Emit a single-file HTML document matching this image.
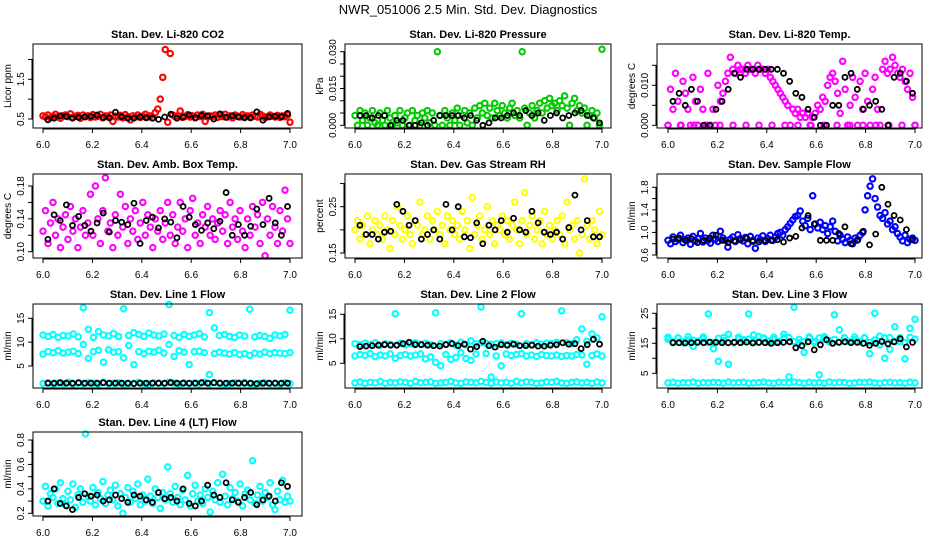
<!DOCTYPE html>
<html><head><meta charset="utf-8"><style>
html,body{margin:0;padding:0;background:#fff;}
svg{display:block;font-family:"Liberation Sans",Arial,sans-serif;}
</style></head><body>
<svg id="chart" width="936" height="540" viewBox="0 0 936 540">
<text x="468" y="14" text-anchor="middle" font-size="13">NWR_051006  2.5 Min. Std. Dev. Diagnostics</text>
</svg>
<script>
// ---- data ----
const xTicks = [6.0, 6.2, 6.4, 6.6, 6.8, 7.0];
const xTickLabels = ["6.0", "6.2", "6.4", "6.6", "6.8", "7.0"];

const co2 = [0.58,0.55,0.60,0.53,0.57,0.62,0.55,0.52,0.58,0.60,0.56,0.63,0.54,0.57,0.59,0.52,0.60,0.56,0.58,0.54,
0.61,0.55,0.57,0.62,0.53,0.58,0.56,0.60,0.44,0.57,0.55,0.59,0.53,0.61,0.56,0.48,0.58,0.55,0.60,0.54,
0.57,0.62,0.55,0.58,0.53,0.66,0.75,1.00,1.55,2.25,0.42,2.15,0.60,0.56,0.58,0.70,0.54,0.57,0.61,0.55,
0.58,0.53,0.60,0.56,0.62,0.44,0.55,0.58,0.57,0.60,0.54,0.59,0.56,0.62,0.55,0.58,0.53,0.60,0.57,0.55,
0.61,0.56,0.58,0.54,0.60,0.57,0.55,0.62,0.58,0.53,0.56,0.60,0.57,0.55,0.59,0.54,0.58,0.56,0.60,0.42];
const co2Black = [0.48,0.52,0.58,0.56,0.52,0.54,0.55,0.57,0.60,0.54,0.53,0.67,0.56,0.52,0.52,0.55,0.53,0.52,0.49,0.55,
0.62,0.52,0.55,0.60,0.53,0.59,0.58,0.50,0.63,0.54,0.58,0.55,0.53,0.53,0.68,0.47,0.55,0.57,0.56,0.64];

const press = [0.004,0.000,0.006,0.002,0.005,0.000,0.003,0.006,0.001,0.000,0.005,0.002,0.000,0.006,0.003,0.000,0.004,0.001,0.006,0.000,
0.003,0.005,0.000,0.006,0.002,0.004,0.000,0.005,0.003,0.006,0.001,0.005,0.000,0.030,0.004,0.000,0.006,0.003,0.000,0.005,
0.002,0.007,0.000,0.004,0.006,0.001,0.005,0.000,0.007,0.003,0.008,0.005,0.009,0.004,0.007,0.003,0.009,0.006,0.004,0.008,
0.005,0.003,0.007,0.009,0.004,0.006,0.003,0.030,0.007,0.000,0.005,0.008,0.003,0.006,0.009,0.005,0.010,0.007,0.011,0.008,
0.009,0.006,0.010,0.008,0.012,0.007,0.000,0.009,0.011,0.006,0.008,0.005,0.007,0.000,0.004,0.006,0.003,0.005,0.000,0.031];
const pressBlack = [0.004,0.004,0.003,0.004,0.004,0.000,0.002,0.002,0.000,0.000,0.001,0.000,0.002,0.004,0.004,0.004,0.004,0.003,0.004,0.002,
0.000,0.001,0.003,0.003,0.004,0.005,0.004,0.006,0.004,0.005,0.002,0.004,0.005,0.003,0.004,0.005,0.006,0.004,0.003,0.001];

const temp = [0.000,0.009,0.004,0.013,0.006,0.000,0.011,0.008,0.004,0.000,0.012,0.006,0.000,0.009,0.004,0.000,0.013,0.000,0.004,0.000,
0.010,0.006,0.008,0.011,0.013,0.017,0.014,0.013,0.015,0.014,0.014,0.013,0.015,0.014,0.014,0.013,0.015,0.014,0.014,0.013,
0.014,0.012,0.011,0.010,0.009,0.008,0.007,0.006,0.005,0.000,0.004,0.003,0.004,0.002,0.003,0.002,0.003,0.000,0.002,0.003,
0.005,0.004,0.007,0.006,0.010,0.012,0.013,0.011,0.008,0.003,0.016,0.009,0.000,0.005,0.012,0.007,0.000,0.011,0.004,0.013,
0.006,0.000,0.009,0.012,0.004,0.000,0.014,0.016,0.013,0.014,0.017,0.015,0.013,0.012,0.014,0.011,0.009,0.013,0.007,0.000];
const tempZeros = [0.000,0.000,0.000,0.000,0.000,0.000,0.000,0.000,0.000,0.000,0.000,0.000,0.000,0.000,0.000,0.000,0.000,0.000,0.000,0.000];
const tempBlack = [0.006,0.008,0.005,0.009,0.006,0.000,0.000,0.004,0.006,0.009,0.013,0.012,0.014,0.014,0.014,0.014,0.014,0.014,0.013,0.011,
0.008,0.007,0.004,0.002,0.000,0.000,0.005,0.005,0.012,0.013,0.009,0.004,0.005,0.006,0.004,0.000,0.012,0.013,0.011,0.008];

const amb = [0.125,0.15,0.11,0.135,0.16,0.12,0.14,0.105,0.13,0.145,0.115,0.155,0.125,0.14,0.105,0.13,0.15,0.12,0.135,0.17,
0.12,0.18,0.14,0.11,0.15,0.19,0.125,0.135,0.105,0.145,0.12,0.17,0.13,0.155,0.11,0.14,0.125,0.15,0.115,0.135,
0.16,0.12,0.145,0.13,0.105,0.14,0.125,0.15,0.115,0.135,0.16,0.12,0.145,0.11,0.13,0.16,0.125,0.14,0.105,0.15,
0.165,0.12,0.135,0.11,0.145,0.13,0.155,0.12,0.14,0.115,0.135,0.15,0.125,0.145,0.11,0.16,0.13,0.14,0.115,0.15,
0.125,0.105,0.14,0.12,0.155,0.13,0.145,0.11,0.16,0.095,0.14,0.12,0.155,0.13,0.11,0.15,0.125,0.175,0.14,0.11];
const ambBlack = [0.115,0.145,0.138,0.157,0.132,0.143,0.132,0.125,0.135,0.147,0.124,0.138,0.136,0.133,0.159,0.11,0.138,0.142,0.129,0.14,
0.136,0.117,0.155,0.142,0.133,0.126,0.135,0.128,0.137,0.172,0.12,0.133,0.12,0.131,0.152,0.133,0.165,0.135,0.12,0.155];

const rh = [0.20,0.22,0.18,0.21,0.19,0.23,0.17,0.20,0.22,0.19,0.21,0.18,0.23,0.20,0.16,0.22,0.19,0.25,0.21,0.18,
0.20,0.23,0.19,0.17,0.22,0.21,0.26,0.19,0.20,0.23,0.18,0.22,0.20,0.24,0.19,0.21,0.17,0.23,0.20,0.22,
0.19,0.21,0.18,0.24,0.20,0.22,0.16,0.27,0.19,0.21,0.23,0.18,0.20,0.25,0.19,0.22,0.17,0.21,0.20,0.23,
0.19,0.22,0.18,0.21,0.26,0.20,0.17,0.22,0.28,0.19,0.21,0.23,0.18,0.20,0.22,0.17,0.24,0.19,0.21,0.18,
0.20,0.22,0.19,0.23,0.17,0.26,0.20,0.21,0.18,0.22,0.15,0.19,0.31,0.21,0.18,0.22,0.20,0.17,0.24,0.19];
const rhBlack = [0.21,0.19,0.19,0.18,0.195,0.197,0.255,0.24,0.21,0.22,0.18,0.19,0.20,0.18,0.255,0.20,0.25,0.185,0.183,0.215,
0.17,0.21,0.20,0.22,0.195,0.225,0.20,0.195,0.24,0.215,0.195,0.19,0.195,0.18,0.205,0.275,0.20,0.22,0.185,0.185];

const flow = [0.86,0.80,0.92,0.84,0.88,0.95,0.82,0.87,0.90,0.79,0.93,0.85,0.89,0.98,0.83,0.90,0.86,0.81,0.95,0.88,
0.84,1.02,0.90,0.86,0.74,0.88,0.92,0.84,0.96,0.89,0.85,0.91,0.80,0.93,0.86,0.72,0.90,0.87,0.94,0.84,
0.89,0.95,0.86,0.91,0.98,1.00,0.95,1.05,1.10,1.16,1.22,1.28,1.30,1.38,1.20,1.12,1.25,1.05,1.65,1.15,
1.08,1.18,1.05,1.12,0.98,1.10,1.20,1.02,0.85,0.95,0.88,0.82,0.92,0.86,0.80,0.90,0.87,0.95,1.00,1.40,
1.65,1.82,1.95,1.60,1.45,1.30,1.25,1.35,1.15,1.20,1.05,1.10,0.98,0.92,0.85,0.95,0.82,0.88,0.90,0.86];
const flowBlack = [0.88,0.90,0.86,0.89,0.82,0.86,0.90,0.95,0.86,0.82,0.85,0.87,0.90,0.84,0.83,0.86,0.86,0.87,0.83,0.90,
0.93,1.08,1.30,1.15,0.86,0.86,0.86,0.98,1.10,0.80,0.86,1.02,0.78,0.97,1.80,1.50,1.30,1.22,1.05,0.87];

const l1a = [11.5,11.2,11.6,11.0,11.4,11.3,11.7,11.1,17.2,12.7,11.0,12.2,11.5,11.3,11.8,11.2,17.0,11.4,12.0,11.6,
11.2,11.9,11.5,11.3,11.7,17.9,11.4,11.0,11.6,11.2,11.5,11.8,11.1,16.2,13.0,11.4,11.6,11.2,11.0,11.5,
11.3,16.9,11.1,11.4,11.2,10.8,11.5,11.3,11.6,16.7];
const l1b = [7.5,8.0,7.8,8.2,7.7,7.9,8.1,7.6,9.5,6.6,8.0,8.3,5.8,8.4,7.9,8.0,6.7,9.3,5.3,8.0,
7.6,8.1,7.9,8.3,7.7,9.5,7.0,8.2,7.9,5.3,8.0,8.1,7.8,3.2,7.6,7.9,7.7,7.5,7.8,7.4,
7.6,7.2,7.7,7.5,7.9,7.6,7.8,7.7,7.6,7.8];
const l1c = [1.3,1.5,1.2,1.4,1.3,1.6,1.2,1.4,1.3,1.5,1.4,1.2,1.6,1.3,1.4,1.5,1.2,1.3,1.4,1.6,
1.3,1.2,1.5,1.4,1.3,1.6,1.4,1.2,1.5,1.3,1.4,1.2,1.6,1.3,1.5,1.4,1.2,1.3,1.5,1.4,
1.6,1.3,1.2,1.4,1.5,1.3,1.4,1.2,1.5,1.3];
const l1Black = [1.4,1.4,1.5,1.4,1.4,1.5,1.4,1.4,1.4,1.5,1.4,1.4,1.4,1.4,1.3,1.4,1.4,1.4,1.4,1.4,
1.5,1.4,1.4,1.4,1.4,1.5,1.4,1.5,1.4,1.4,1.4,1.4,1.4,1.4,1.3,1.4,1.4,1.4,1.4,1.4];

const l2a = [9.0,8.8,9.1,8.9,9.2,8.7,9.0,8.9,15.1,9.1,8.8,9.0,9.2,8.9,9.1,8.8,15.3,9.0,8.9,9.2,
8.7,9.3,8.8,9.6,9.0,16.5,9.1,8.9,9.0,9.2,8.8,9.1,8.9,15.1,9.0,8.8,9.2,8.9,9.1,9.0,
9.3,15.7,9.2,9.0,9.8,12.0,9.5,11.0,10.2,14.5];
const l2b = [6.5,6.8,6.6,7.0,6.4,6.7,6.5,6.9,6.0,6.6,6.8,6.5,6.7,6.9,5.9,6.3,5.2,4.5,6.8,5.8,
6.2,7.2,6.0,5.6,6.9,9.2,7.0,2.2,6.5,4.5,6.9,6.6,6.8,7.0,6.5,6.7,6.4,6.8,6.6,6.5,
6.7,6.4,6.6,6.5,6.8,6.7,4.8,6.6,6.9,6.5];
const l2c = [1.0,1.2,0.9,1.1,1.0,1.3,0.9,1.1,1.0,1.2,1.1,0.9,1.3,1.0,1.1,1.2,0.9,1.0,1.1,1.3,
1.0,0.9,1.2,1.1,1.0,1.3,1.1,0.9,1.2,1.0,1.1,0.9,1.3,1.0,1.2,1.1,0.9,1.0,1.2,1.1,
1.3,1.0,0.9,1.1,1.2,1.0,1.1,0.9,1.2,1.0];
const l2Black = [8.4,8.5,8.6,8.7,8.8,8.7,8.7,9.0,9.3,8.8,8.8,8.7,8.6,8.5,8.8,9.0,8.6,8.9,7.9,8.4,
9.5,8.6,8.3,8.8,8.7,8.9,8.6,8.6,8.7,8.5,8.5,8.7,8.8,9.2,8.9,9.0,8.0,8.8,9.9,8.9];

const l3a = [17.0,15.5,16.8,15.2,17.2,16.0,15.6,17.1,24.8,15.3,9.0,16.9,8.0,15.4,17.0,16.2,24.8,15.5,17.3,16.8,
15.4,17.0,15.6,18.0,16.9,27.0,15.3,12.0,17.1,15.6,16.8,17.2,15.4,24.5,19.5,16.9,15.6,17.1,15.5,16.8,
11.5,25.0,17.4,10.0,16.9,20.5,15.6,9.8,20.0,23.0];
const l3b = [16.4,15.2,16.8,15.5,16.1,14.0,15.8,16.6,15.3,13.2,16.7,15.9,18.0,15.2,16.5,15.7,16.4,17.8,15.3,16.6,
15.8,16.2,15.4,16.9,3.8,15.6,16.3,15.5,16.8,15.2,4.5,16.5,15.9,16.3,15.4,16.7,15.5,16.2,15.7,16.9,
15.3,16.1,14.5,16.8,13.0,15.6,16.9,15.2,17.0,16.4];
const l3c = [1.8,2.0,1.7,1.9,1.8,2.1,1.7,1.9,1.8,2.0,1.9,1.7,2.1,1.8,1.9,2.0,1.7,1.8,1.9,2.1,
1.8,1.7,2.0,1.9,1.8,2.1,1.9,1.7,2.0,1.8,1.9,1.7,2.1,1.8,2.0,1.9,1.7,1.8,2.0,1.9,
2.1,1.8,1.7,1.9,2.0,1.8,1.9,1.7,2.0,1.8];
const l3Black = [15.2,15.2,15.1,15.2,15.3,15.2,15.4,15.3,15.2,15.2,15.3,15.2,15.4,15.1,15.3,15.2,15.0,15.2,15.3,15.5,
13.5,14.2,15.5,12.8,14.5,16.2,15.0,15.3,15.5,15.2,15.3,15.0,14.3,15.0,15.6,14.8,15.5,16.5,13.8,15.3];

const l4 = [0.30,0.42,0.26,0.36,0.33,0.40,0.28,0.45,0.32,0.27,0.38,0.31,0.44,0.25,0.35,0.40,0.29,0.85,0.34,0.30,
0.41,0.27,0.37,0.32,0.46,0.28,0.35,0.39,0.31,0.43,0.26,0.36,0.20,0.33,0.41,0.29,0.38,0.32,0.44,0.27,
0.35,0.30,0.48,0.34,0.28,0.40,0.33,0.24,0.37,0.31,0.58,0.36,0.29,0.42,0.33,0.27,0.39,0.31,0.51,0.26,
0.36,0.43,0.30,0.35,0.28,0.40,0.33,0.21,0.38,0.31,0.45,0.29,0.52,0.34,0.27,0.41,0.32,0.37,0.30,0.44,
0.26,0.36,0.39,0.31,0.63,0.28,0.35,0.42,0.30,0.37,0.33,0.45,0.27,0.23,0.38,0.31,0.47,0.29,0.34,0.30];
const l4Black = [0.30,0.40,0.28,0.26,0.23,0.33,0.36,0.34,0.35,0.30,0.31,0.35,0.32,0.29,0.35,0.34,0.31,0.29,0.37,0.32,
0.33,0.30,0.40,0.28,0.26,0.30,0.43,0.35,0.33,0.45,0.31,0.29,0.33,0.37,0.27,0.31,0.34,0.30,0.45,0.42];

// ---- layout (styles/geometry, not data) ----
const cols = [
  {left:33, right:302, x6:43, x7:290},
  {left:345, right:611, x6:355, x7:602},
  {left:657, right:922, x6:668, x7:915}
];
const rowTops = [44, 174, 304, 432];
const BOXH = 84;

const panels = [
  {name:"co2", title:"Stan. Dev. Li-820 CO2", ylab:"Licor ppm", c:0, r:0, color:"#ff0000", series:[co2], black:co2Black,
   cal:[0.5,75,1.5,35.3], ticks:[0.5,1,1.5,2], labels:["0.5","","1.5",""]},
  {name:"pressure", title:"Stan. Dev. Li-820 Pressure", ylab:"kPa", c:1, r:0, color:"#00cc00", series:[press], black:pressBlack,
   cal:[0,81.3,0.03,7.7], ticks:[0,0.005,0.01,0.015,0.02,0.025,0.03], labels:["0.000","","","0.015","","","0.030"]},
  {name:"temp", title:"Stan. Dev. Li-820 Temp.", ylab:"degrees C", c:2, r:0, color:"#ff00ff", series:[temp,tempZeros], black:tempBlack,
   cal:[0,81.3,0.01,41.3], ticks:[0,0.005,0.01,0.015], labels:["0.000","","0.010",""]},
  {name:"amb-box", title:"Stan. Dev. Amb. Box Temp.", ylab:"degrees C", c:0, r:1, color:"#ff00ff", series:[amb], black:ambBlack,
   cal:[0.10,77.7,0.18,12], ticks:[0.10,0.12,0.14,0.16,0.18], labels:["0.10","","0.14","","0.18"]},
  {name:"rh", title:"Stan. Dev. Gas Stream RH", ylab:"percent", c:1, r:1, color:"#ffff00", series:[rh], black:rhBlack,
   cal:[0.15,79,0.25,32.7], ticks:[0.15,0.20,0.25,0.30], labels:["0.15","","0.25",""]},
  {name:"sample-flow", title:"Stan. Dev. Sample Flow", ylab:"ml/min", c:2, r:1, color:"#0000ff", series:[flow], black:flowBlack,
   cal:[0.6,81,1.8,13.3], ticks:[0.6,0.8,1.0,1.2,1.4,1.6,1.8], labels:["0.6","","1.0","","1.4","","1.8"]},
  {name:"line1", title:"Stan. Dev. Line 1 Flow", ylab:"ml/min", c:0, r:2, color:"#00ffff", series:[l1a,l1b,l1c], black:l1Black,
   cal:[5,62,15,14.3], ticks:[5,10,15], labels:["5","10","15"]},
  {name:"line2", title:"Stan. Dev. Line 2 Flow", ylab:"ml/min", c:1, r:2, color:"#00ffff", series:[l2a,l2b,l2c], black:l2Black,
   cal:[5,59.3,15,10.3], ticks:[5,10,15], labels:["5","10","15"]},
  {name:"line3", title:"Stan. Dev. Line 3 Flow", ylab:"ml/min", c:2, r:2, color:"#00ffff", series:[l3a,l3b,l3c], black:l3Black,
   cal:[5,69.3,25,9.3], ticks:[5,10,15,20,25], labels:["5","","15","","25"]},
  {name:"line4", title:"Stan. Dev. Line 4 (LT) Flow", ylab:"ml/min", c:0, r:3, color:"#00ffff", series:[l4], black:l4Black,
   cal:[0.2,81.3,0.8,8], ticks:[0.2,0.3,0.4,0.5,0.6,0.7,0.8], labels:["0.2","","0.4","","0.6","","0.8"]}
];

const NS = "http://www.w3.org/2000/svg";
const svg = document.getElementById("chart");
function mk(tag, attrs, parent) {
  const e = document.createElementNS(NS, tag);
  for (const k in attrs) e.setAttribute(k, attrs[k]);
  parent.appendChild(e);
  return e;
}
function xScale(col, v) { return col.x6 + (v - 6) * (col.x7 - col.x6); }
function yScale(p, top, v) {
  const [v0, o0, v1, o1] = p.cal;
  return top + o0 + (v - v0) * (o1 - o0) / (v1 - v0);
}

panels.forEach(p => {
  const col = cols[p.c], top = rowTops[p.r], bot = top + BOXH;
  const g = mk("g", {}, svg);
  
  

  const t = mk("text", {x:(col.left+col.right)/2, y:top-6, "text-anchor":"middle", "font-size":"11", "font-weight":"bold"}, g);
  t.textContent = p.title;
  
  

  const sg = mk("g", {fill:"none", stroke:p.color, "stroke-width":"2.1"}, g);
  
  
  p.series.forEach(arr => {
    const n = arr.length;
    arr.forEach((v, i) => {
      const c = mk("circle", {cx:xScale(col, 6 + i/(n-1)), cy:yScale(p, top, v), r:"2.7"}, sg);
      
      
    });
  });
  const bg = mk("g", {fill:"none", stroke:"#000", "stroke-width":"1.8"}, g);
  
  
  const nb = p.black.length;
  p.black.forEach((v, i) => {
    const c = mk("circle", {cx:xScale(col, 6.02 + 0.97*i/(nb-1)), cy:yScale(p, top, v), r:"2.5"}, bg);
    
    
  });

  const box = mk("rect", {x:col.left, y:top, width:col.right-col.left, height:BOXH, fill:"none", stroke:"#000", "stroke-width":"1"}, g);
  
  

  const xa = mk("g", {"font-size":"10"}, g);
  
  
  mk("line", {x1:xScale(col,6), x2:xScale(col,7), y1:bot+1, y2:bot+1, stroke:"#000"}, xa);
  xTicks.forEach((v, i) => {
    const x = xScale(col, v);
    mk("line", {x1:x, x2:x, y1:bot, y2:bot+5, stroke:"#000"}, xa);
    const tl = mk("text", {x:x, y:bot+20, "text-anchor":"middle"}, xa);
    tl.textContent = xTickLabels[i];
    
    
  });

  const ya = mk("g", {"font-size":"10"}, g);
  
  
  const yt0 = yScale(p, top, p.ticks[0]), yt1 = yScale(p, top, p.ticks[p.ticks.length-1]);
  mk("line", {x1:col.left-1, x2:col.left-1, y1:yt0, y2:yt1, stroke:"#000"}, ya);
  p.ticks.forEach((v, i) => {
    const y = yScale(p, top, v);
    mk("line", {x1:col.left-5, x2:col.left, y1:y, y2:y, stroke:"#000"}, ya);
    if (p.labels[i]) {
      const lx = col.left - 9;
      const tl = mk("text", {x:lx, y:y, "text-anchor":"middle", transform:"rotate(-90 " + lx + " " + y + ")"}, ya);
      tl.textContent = p.labels[i];
      
      
    }
  });
  const lx = col.left - 22, ly = top + BOXH/2;
  const yl = mk("text", {x:lx, y:ly, "text-anchor":"middle", "font-size":"10", transform:"rotate(-90 " + lx + " " + ly + ")"}, g);
  yl.textContent = p.ylab;
  
  
});
</script>
</body></html>
